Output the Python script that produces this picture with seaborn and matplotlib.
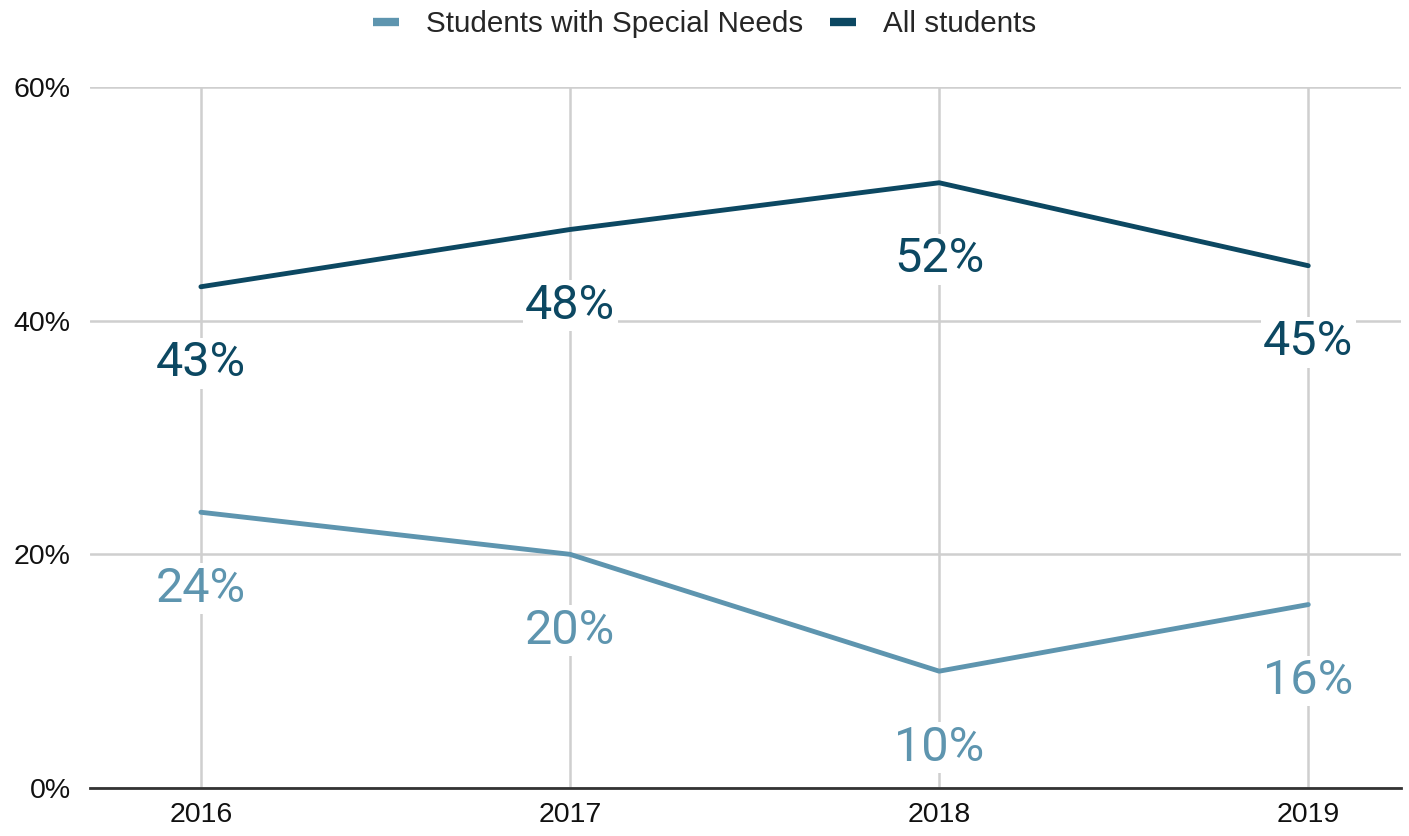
import numpy as np
import pandas as pd
import seaborn as sns
from matplotlib import pyplot as plt
from matplotlib.lines import Line2D
from matplotlib.ticker import PercentFormatter

years = ["2016", "2017", "2018", "2019"]
special_needs = [23.6, 20.0, 10.0, 15.7]
all_students = [42.9, 47.8, 51.8, 44.7]
series_names = ["Students with Special Needs", "All students"]
colors = ["#5E95AF", "#0C4862"]

df = pd.DataFrame({
    "year": years * 2,
    "value": special_needs + all_students,
    "series": [series_names[0]] * 4 + [series_names[1]] * 4,
})
df["x"] = df["year"].map({y: i for i, y in enumerate(years)})

sns.set_style("white")
plt.rcParams["font.family"] = ["Liberation Sans", "DejaVu Sans"]

fig = plt.figure(figsize=(14.09, 8.36), dpi=100)
ax = fig.add_axes([0.064, 0.0574, 0.93, 0.8386])

sns.lineplot(data=df, x="x", y="value", hue="series", palette=colors,
             hue_order=series_names, linewidth=3.5, ax=ax, legend=False, zorder=3)

# data labels below each point
for name, vals, c in zip(series_names, [special_needs, all_students], colors):
    for i, v in enumerate(vals):
        ax.annotate(f"{v:.0f}%", (i, v), xytext=(0, -55), textcoords="offset points",
                    ha="center", va="center", fontsize=35, color=c,
                    family=["Roboto", "DejaVu Sans"], zorder=4,
                    bbox=dict(boxstyle="square,pad=0.05", fc="white", ec="none"))

ax.set_xlim(-0.3, 3.25)
ax.set_ylim(0, 60)
ax.set_xticks(range(len(years)))
ax.set_xticklabels(years)
ax.set_yticks([0, 20, 40, 60])
ax.yaxis.set_major_formatter(PercentFormatter(decimals=0))
ax.tick_params(axis="both", labelsize=20.5, length=0, colors="#111111")
ax.tick_params(axis="y", pad=14)
ax.tick_params(axis="x", pad=10)
ax.grid(True, color="#cfcfcf", linewidth=1.8, zorder=0)
ax.set_axisbelow(True)
ax.set_xlabel("")
ax.set_ylabel("")
for s in ["top", "right", "left"]:
    ax.spines[s].set_visible(False)
ax.spines["bottom"].set_color("#333333")
ax.spines["bottom"].set_linewidth(2)

handles = [Line2D([0], [0], color=c, linewidth=6, solid_capstyle="butt") for c in colors]
fig.legend(handles, series_names, loc="upper center", bbox_to_anchor=(0.5, 1.02),
           ncol=2, frameon=False, fontsize=21.3, handlelength=0.9, columnspacing=0.9,
           handletextpad=0.9)

plt.savefig("out.png", dpi=100)
